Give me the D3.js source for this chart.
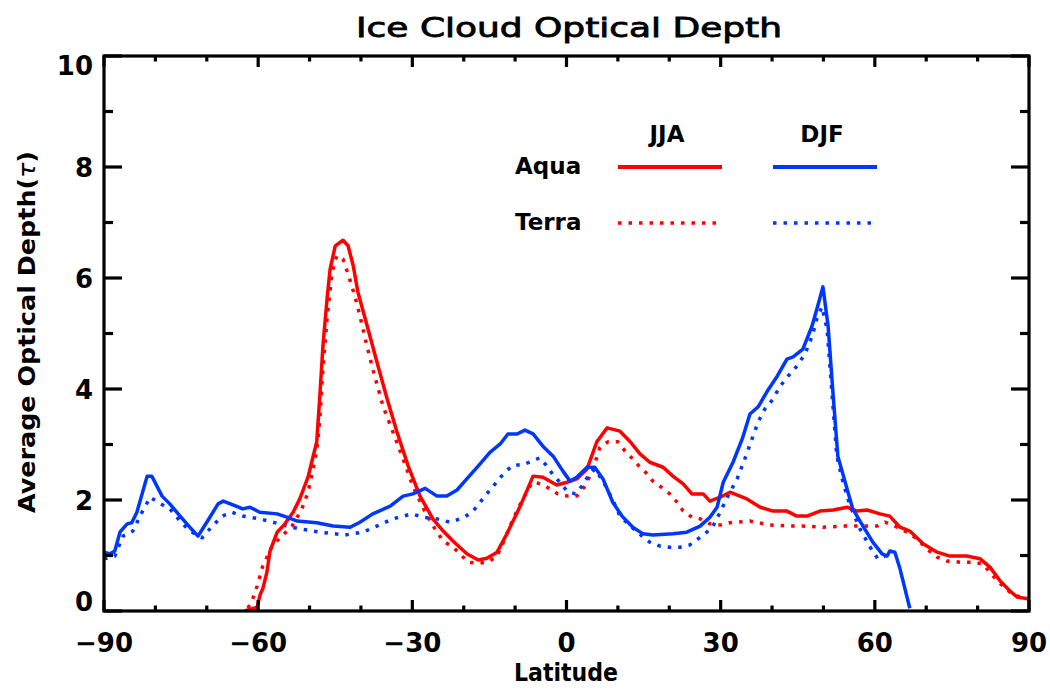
<!DOCTYPE html>
<html>
<head>
<meta charset="utf-8">
<script src="https://cdn.jsdelivr.net/npm/d3@7"></script>
<style>
  html, body { margin: 0; padding: 0; background: #fff; }
  svg { display: block; }
  text { font-family: "DejaVu Sans", sans-serif; fill: #000; }
</style>
</head>
<body>
<div id="chart"></div>
<script>
// Zonal mean ice cloud optical depth, Aqua vs Terra, JJA vs DJF
const title = "Ice Cloud Optical Depth";
const xLabel = "Latitude";
const yLabel = "Average Optical Depth";

const xTicks = [-90, -60, -30, 0, 30, 60, 90];
const yTicks = [0, 2, 4, 6, 8, 10];

const seasons = ["JJA", "DJF"];
const satellites = ["Aqua", "Terra"];

// [latitude, optical depth]
const aquaJJA = [
  [-62.6,0.0],[-60.2,0.07],[-59.6,0.3],[-59.1,0.4],[-58.3,0.7],[-57.7,1.08],[-56.3,1.42],
  [-54.8,1.57],[-53.2,1.78],[-51.9,2.02],[-50.3,2.41],[-48.6,3.05],[-48.0,3.87],[-47.4,4.77],
  [-46.6,5.62],[-46.0,6.16],[-45.0,6.58],[-43.5,6.68],[-42.5,6.58],[-41.5,6.22],[-40.6,5.75],
  [-38.8,5.14],[-36.9,4.49],[-34.9,3.82],[-33.0,3.23],[-30.8,2.61],[-28.5,2.07],[-26.0,1.66],
  [-24.0,1.44],[-22.1,1.26],[-19.4,1.03],[-17.2,0.92],[-15.5,0.95],[-13.5,1.06],[-11.6,1.39],
  [-9.0,1.89],[-6.5,2.43],[-4.6,2.41],[-1.9,2.27],[0.1,2.32],[2.0,2.38],[4.0,2.56],[5.9,3.05],
  [7.9,3.3],[10.4,3.24],[12.4,3.05],[14.3,2.83],[16.2,2.68],[18.8,2.59],[20.7,2.43],[22.7,2.29],
  [24.4,2.11],[26.6,2.11],[27.9,1.98],[29.9,2.05],[31.8,2.14],[35.1,2.02],[37.7,1.87],[40.2,1.8],
  [42.9,1.8],[44.8,1.71],[46.8,1.71],[49.3,1.8],[51.9,1.82],[54.6,1.87],[56.5,1.8],[58.5,1.82],
  [61.0,1.75],[62.9,1.71],[64.9,1.51],[66.8,1.44],[69.4,1.21],[72.1,1.06],[74.6,0.99],[77.9,0.99],
  [80.5,0.94],[82.4,0.79],[84.4,0.54],[86.3,0.36],[87.7,0.25],[89.8,0.22]
];

const terraJJA = [
  [-62.0,0.05],[-61.2,0.18],[-60.2,0.45],[-59.1,0.81],[-57.3,1.17],[-55.4,1.35],[-53.4,1.53],
  [-51.5,1.84],[-50.3,2.14],[-48.9,2.74],[-48.4,3.05],[-48.0,3.46],[-47.4,4.36],[-46.6,5.26],
  [-45.6,6.11],[-44.7,6.4],[-43.5,6.34],[-42.5,6.07],[-41.2,5.68],[-40.2,5.32],[-38.8,4.76],
  [-37.7,4.36],[-35.7,3.69],[-33.8,3.23],[-31.8,2.74],[-29.9,2.25],[-27.5,1.78],[-25.6,1.48],
  [-24.0,1.26],[-22.1,1.15],[-20.7,1.03],[-19.2,0.88],[-17.2,0.86],[-15.3,0.88],[-13.5,0.99],
  [-12.0,1.3],[-10.4,1.66],[-8.7,1.98],[-6.7,2.32],[-4.8,2.29],[-3.2,2.2],[-1.7,2.11],[0.3,2.07],
  [2.0,2.07],[3.6,2.25],[5.2,2.56],[6.5,2.95],[8.1,3.05],[10.0,3.05],[11.4,2.88],[12.9,2.74],
  [14.3,2.59],[15.7,2.47],[16.8,2.34],[18.6,2.22],[20.1,2.11],[21.5,1.96],[22.7,1.8],[24.4,1.69],
  [26.0,1.66],[27.9,1.57],[29.9,1.55],[31.8,1.59],[35.7,1.62],[39.6,1.55],[43.5,1.53],[46.0,1.53],
  [49.9,1.51],[53.8,1.53],[57.7,1.53],[60.4,1.53],[62.0,1.6],[63.9,1.53],[66.3,1.42],[68.2,1.3],
  [70.1,1.12],[72.1,0.97],[74.0,0.9],[76.6,0.88],[79.1,0.88],[81.0,0.85],[83.0,0.63],[84.9,0.45],
  [86.9,0.29],[89.8,0.22]
];

const aquaDJF = [
  [-90.0,1.06],[-88.8,1.03],[-87.9,1.08],[-86.9,1.42],[-85.5,1.57],[-84.6,1.59],[-83.6,1.78],
  [-81.6,2.43],[-80.7,2.43],[-78.7,2.07],[-77.2,1.93],[-75.2,1.71],[-73.3,1.51],[-71.7,1.35],
  [-70.0,1.6],[-67.8,1.93],[-66.8,1.98],[-64.9,1.91],[-63.0,1.84],[-61.6,1.87],[-59.7,1.78],
  [-56.3,1.75],[-54.4,1.69],[-52.4,1.62],[-48.6,1.59],[-45.4,1.53],[-42.1,1.51],[-40.2,1.6],
  [-37.7,1.75],[-34.3,1.89],[-31.8,2.07],[-29.9,2.11],[-27.5,2.21],[-25.2,2.07],[-23.3,2.07],
  [-21.3,2.18],[-19.4,2.38],[-17.2,2.61],[-14.9,2.86],[-12.9,3.01],[-11.4,3.19],[-9.6,3.19],
  [-8.1,3.26],[-6.5,3.19],[-4.6,2.97],[-2.6,2.79],[-0.7,2.52],[0.7,2.34],[2.0,2.41],[4.0,2.59],
  [5.5,2.59],[7.1,2.38],[9.0,1.96],[10.8,1.71],[12.9,1.51],[14.9,1.39],[16.8,1.37],[20.7,1.39],
  [23.4,1.42],[26.0,1.53],[27.9,1.69],[29.3,1.87],[30.5,2.32],[32.4,2.68],[34.2,3.1],[35.7,3.55],
  [37.3,3.68],[39.0,3.95],[41.0,4.23],[42.9,4.54],[44.1,4.58],[46.0,4.72],[47.8,5.14],[48.9,5.5],
  [49.9,5.84],[50.9,5.14],[51.9,3.87],[52.8,2.79],[54.6,2.2],[55.7,1.84],[57.7,1.53],[59.6,1.24],
  [61.4,1.03],[62.4,0.99],[62.9,1.08],[63.9,1.06],[64.9,0.76],[66.8,0.05]
];

const terraDJF = [
  [-90.0,0.94],[-87.9,0.99],[-86.3,1.35],[-84.4,1.44],[-82.6,1.78],[-81.0,2.05],[-79.5,1.96],
  [-77.2,1.84],[-75.2,1.62],[-73.3,1.44],[-70.9,1.32],[-69.4,1.48],[-67.0,1.71],[-65.1,1.78],
  [-63.0,1.71],[-59.6,1.66],[-57.1,1.6],[-54.4,1.53],[-51.9,1.48],[-48.0,1.42],[-43.1,1.37],
  [-39.6,1.42],[-36.9,1.53],[-33.8,1.66],[-30.1,1.75],[-27.9,1.69],[-25.2,1.66],[-22.7,1.6],
  [-20.1,1.68],[-18.4,1.78],[-17.2,1.91],[-15.9,2.07],[-14.5,2.22],[-13.3,2.36],[-12.0,2.5],
  [-10.4,2.63],[-8.7,2.63],[-6.7,2.7],[-5.2,2.76],[-3.8,2.61],[-2.6,2.45],[-1.3,2.32],[0.1,2.16],
  [1.7,2.11],[3.0,2.25],[4.2,2.43],[5.5,2.56],[7.1,2.34],[8.9,2.02],[10.4,1.71],[12.7,1.51],
  [14.7,1.35],[16.2,1.24],[18.2,1.17],[20.1,1.15],[22.1,1.15],[24.0,1.19],[25.6,1.3],[27.3,1.42],
  [28.5,1.53],[29.9,1.78],[31.4,2.07],[33.2,2.38],[34.7,2.74],[36.1,3.1],[37.3,3.41],[38.6,3.64],
  [40.2,3.82],[41.5,4.04],[43.1,4.23],[44.8,4.41],[46.4,4.63],[47.8,4.95],[48.7,5.26],[49.7,5.48],
  [50.7,5.08],[51.7,3.87],[52.6,2.79],[53.8,2.32],[55.2,1.89],[57.1,1.48],[59.1,1.15],[60.6,0.94],
  [62.0,0.99]
];

const RED = "#ff0000";
const BLUE = "#0037ff";
const DOTS = "3.5,7";

const W = 1050, H = 691;
const plot = { left: 104, right: 1029, top: 56, bottom: 611 };

const svg = d3.select("#chart").append("svg")
  .attr("width", W).attr("height", H);

const x = d3.scaleLinear().domain([-90, 90]).range([plot.left, plot.right]);
const y = d3.scaleLinear().domain([0, 10]).range([plot.bottom, plot.top]);

svg.append("defs").append("clipPath").attr("id", "plotClip")
  .append("rect")
  .attr("x", plot.left).attr("y", plot.top - 2)
  .attr("width", plot.right - plot.left).attr("height", plot.bottom - plot.top + 2);

// Series lines
const line = d3.line().x(d => x(d[0])).y(d => y(d[1]));
const series = [
  { data: terraJJA, color: RED, dash: DOTS },
  { data: terraDJF, color: BLUE, dash: DOTS },
  { data: aquaJJA, color: RED, dash: null },
  { data: aquaDJF, color: BLUE, dash: null }
];
const lines = svg.append("g").attr("clip-path", "url(#plotClip)");
series.forEach(s => {
  lines.append("path")
    .attr("d", line(s.data))
    .attr("fill", "none")
    .attr("stroke", s.color)
    .attr("stroke-width", 3.5)
    .attr("stroke-linejoin", "round")
    .attr("stroke-dasharray", s.dash);
});

// Frame with ticks on all four sides, pointing inward
const xMinor = d3.range(-90, 91, 10);
const yMinor = d3.range(0, 10.01, 1);
const xMajLen = 11, xMinLen = 5.5, yMajLen = 18, yMinLen = 9;
const axisW = 3.2;

function tickStyle(sel) {
  return sel.attr("stroke", "#000").attr("stroke-width", axisW).attr("fill", "none");
}

const axisG = svg.append("g");
axisG.append("g").attr("transform", `translate(0,${plot.bottom})`)
  .call(d3.axisBottom(x).tickValues(xMinor).tickSize(0).tickFormat(""))
  .call(g => g.select(".domain").remove());

const xt = axisG.append("g");
xMinor.forEach(v => {
  const len = xTicks.includes(v) ? xMajLen : xMinLen;
  tickStyle(xt.append("line")).attr("x1", x(v)).attr("x2", x(v))
    .attr("y1", plot.bottom).attr("y2", plot.bottom - len);
  tickStyle(xt.append("line")).attr("x1", x(v)).attr("x2", x(v))
    .attr("y1", plot.top).attr("y2", plot.top + len);
});
const yt = axisG.append("g");
yMinor.forEach(v => {
  const len = yTicks.includes(v) ? yMajLen : yMinLen;
  tickStyle(yt.append("line")).attr("y1", y(v)).attr("y2", y(v))
    .attr("x1", plot.left).attr("x2", plot.left + len);
  tickStyle(yt.append("line")).attr("y1", y(v)).attr("y2", y(v))
    .attr("x1", plot.right).attr("x2", plot.right - len);
});
tickStyle(axisG.append("rect"))
  .attr("x", plot.left).attr("y", plot.top)
  .attr("width", plot.right - plot.left).attr("height", plot.bottom - plot.top);

// Tick labels
const fmt = v => v < 0 ? "\u2212" + Math.abs(v) : String(v);
svg.append("g").selectAll("text").data(xTicks).join("text")
  .attr("x", d => x(d)).attr("y", 652)
  .attr("text-anchor", "middle")
  .attr("font-size", 26).attr("font-weight", "bold")
  .text(fmt);

const halfH = 9.5;
svg.append("g").selectAll("text").data(yTicks).join("text")
  .attr("x", 93)
  .attr("y", d => Math.min(plot.bottom - halfH, Math.max(plot.top + halfH, y(d))) + halfH)
  .attr("text-anchor", "end")
  .attr("font-size", 26).attr("font-weight", "bold")
  .text(fmt);

// Titles
svg.append("text")
  .attr("x", 569).attr("y", 37)
  .attr("text-anchor", "middle")
  .attr("font-size", 26)
  .attr("stroke", "#000").attr("stroke-width", 0.8)
  .attr("textLength", 426).attr("lengthAdjust", "spacingAndGlyphs")
  .text(title);

svg.append("text")
  .attr("x", 566).attr("y", 681)
  .attr("text-anchor", "middle")
  .attr("font-size", 24.5).attr("font-weight", "bold")
  .attr("textLength", 104).attr("lengthAdjust", "spacingAndGlyphs")
  .text(xLabel);

const yl = svg.append("text")
  .attr("transform", "translate(35,332) rotate(-90)")
  .attr("text-anchor", "middle")
  .attr("font-size", 23.5).attr("font-weight", "bold")
  .attr("textLength", 362).attr("lengthAdjust", "spacingAndGlyphs");
yl.append("tspan").text(yLabel + "(");
yl.append("tspan").attr("font-style", "italic").attr("font-weight", "normal").text("\u03c4");
yl.append("tspan").text(")");

// Legend
const leg = svg.append("g");
const colX = { JJA: 618, DJF: 773 };
const legLen = 104;
seasons.forEach(s => {
  leg.append("text")
    .attr("x", colX[s] + legLen / 2 - 3).attr("y", 142)
    .attr("text-anchor", "middle")
    .attr("font-size", 23).attr("font-weight", "bold")
    .text(s);
});
const rowY = { Aqua: 167, Terra: 223 };
satellites.forEach(sat => {
  leg.append("text")
    .attr("x", 515).attr("y", rowY[sat] + 7)
    .attr("font-size", 23).attr("font-weight", "bold")
    .text(sat);
  seasons.forEach(s => {
    const dotted = sat === "Terra";
    leg.append("line")
      .attr("x1", colX[s]).attr("x2", colX[s] + (dotted ? legLen - 4 : legLen))
      .attr("y1", rowY[sat]).attr("y2", rowY[sat])
      .attr("stroke", s === "JJA" ? RED : BLUE)
      .attr("stroke-width", dotted ? 3.5 : 4)
      .attr("stroke-dasharray", dotted ? DOTS : null);
  });
});
</script>
</body>
</html>
